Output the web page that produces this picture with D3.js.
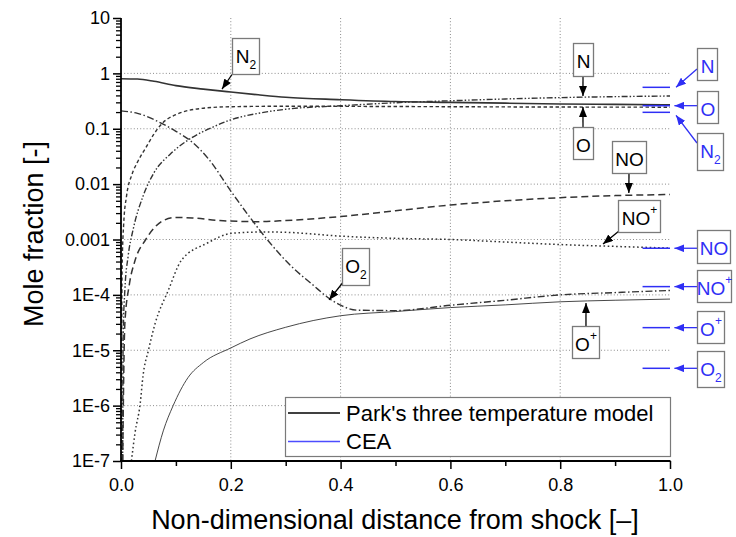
<!DOCTYPE html>
<html>
<head>
<meta charset="utf-8">
<script src="https://cdn.jsdelivr.net/npm/d3@7"></script>
<style>
  html, body { margin: 0; padding: 0; background: #fff; }
  svg { display: block; font-family: "Liberation Sans", Arial, sans-serif; }
</style>
</head>
<body>
<svg id="chart" width="736" height="537"></svg>
<script>
// Mole fractions behind a shock: Park's three temperature model vs. CEA equilibrium
const speciesKeys = ["N2", "O", "N", "O2", "NO", "NO+", "O+"];

const distN2 = [0, 0.03, 0.06, 0.1, 0.15, 0.2, 0.25, 0.3, 0.4, 0.5, 0.6, 0.7, 0.8, 0.9, 1.0];
const fracN2 = [0.8, 0.79, 0.72, 0.6, 0.52, 0.46, 0.41, 0.37, 0.335, 0.31, 0.3, 0.29, 0.28, 0.275, 0.27];

const distO = [0.0005, 0.002, 0.005, 0.01, 0.02, 0.03, 0.045, 0.06, 0.075, 0.1, 0.15, 0.2, 0.3, 0.5, 0.7, 1.0];
const fracO = [1e-7, 3e-4, 2e-3, 6e-3, 0.015, 0.025, 0.045, 0.08, 0.125, 0.18, 0.235, 0.25, 0.255, 0.252, 0.248, 0.245];

const distN = [0.003, 0.004, 0.007, 0.013, 0.022, 0.04, 0.06, 0.09, 0.13, 0.17, 0.2, 0.25, 0.3, 0.4, 0.5, 0.6, 0.7, 0.8, 0.9, 1.0];
const fracN = [1e-7, 2e-5, 1.2e-4, 5e-4, 1.5e-3, 6e-3, 0.016, 0.035, 0.07, 0.11, 0.145, 0.19, 0.225, 0.26, 0.295, 0.32, 0.345, 0.365, 0.38, 0.39];

const distO2 = [0, 0.03, 0.074, 0.1, 0.13, 0.16, 0.2, 0.235, 0.27, 0.31, 0.35, 0.38, 0.4, 0.43, 0.5, 0.6, 0.7, 0.8, 0.9, 1.0];
const fracO2 = [0.21, 0.19, 0.125, 0.09, 0.057, 0.028, 0.0075, 0.0025, 9e-4, 3.3e-4, 1.5e-4, 8.5e-5, 6.5e-5, 5.3e-5, 5.2e-5, 6.5e-5, 8e-5, 1.0e-4, 1.1e-4, 1.2e-4];

const distNO = [0.003, 0.007, 0.015, 0.025, 0.045, 0.06, 0.077, 0.1, 0.13, 0.18, 0.25, 0.3, 0.4, 0.5, 0.6, 0.7, 0.8, 0.9, 1.0];
const fracNO = [1e-7, 3e-5, 1.5e-4, 4e-4, 1e-3, 1.6e-3, 2.2e-3, 2.5e-3, 2.45e-3, 2.2e-3, 2.1e-3, 2.2e-3, 2.6e-3, 3.3e-3, 4.2e-3, 5.0e-3, 5.7e-3, 6.2e-3, 6.5e-3];

const distNOp = [0.019, 0.0255, 0.035, 0.04, 0.05, 0.062, 0.086, 0.11, 0.156, 0.204, 0.266, 0.3, 0.4, 0.5, 0.6, 0.7, 0.8, 0.9, 1.0];
const fracNOp = [1e-7, 3.2e-7, 1.1e-6, 3.4e-6, 1e-5, 3e-5, 1.2e-4, 4.2e-4, 8.5e-4, 1.3e-3, 1.37e-3, 1.35e-3, 1.15e-3, 1.05e-3, 1.0e-3, 9e-4, 8.1e-4, 7.5e-4, 7.0e-4];

const distOp = [0.062, 0.077, 0.095, 0.122, 0.15, 0.2, 0.235, 0.3, 0.4, 0.5, 0.6, 0.7, 0.8, 0.9, 1.0];
const fracOp = [1e-7, 3.5e-7, 1e-6, 3.2e-6, 6e-6, 1.1e-5, 1.6e-5, 2.6e-5, 4.2e-5, 5e-5, 5.9e-5, 6.6e-5, 7.5e-5, 8e-5, 8.4e-5];

// CEA equilibrium values, drawn as short segments at the end of the domain
const ceaSpecies = ["N", "O", "N2", "NO", "NO+", "O+", "O2"];
const ceaFrac = [0.56, 0.261, 0.198, 6.95e-4, 1.41e-4, 2.56e-5, 4.72e-6];
const ceaSpan = [0.95, 1.0];

// axis ticks
const xMajor = [0, 0.2, 0.4, 0.6, 0.8, 1.0];
const xMinor = [0.1, 0.3, 0.5, 0.7, 0.9];
const xTickLabels = ["0.0", "0.2", "0.4", "0.6", "0.8", "1.0"];
const yMajor = [1e-7, 1e-6, 1e-5, 1e-4, 1e-3, 1e-2, 1e-1, 1, 10];
const yTickLabels = ["1E-7", "1E-6", "1E-5", "1E-4", "0.001", "0.01", "0.1", "1", "10"];
const xGrid = [0.2, 0.4, 0.6, 0.8];
const yGrid = [1e-6, 1e-5, 1e-4, 1e-3, 1e-2, 1e-1, 1];

const legendLabels = ["Park's three temperature model", "CEA"];

// ---------------------------------------------------------------------------
const seriesData = {
  "N2": d3.zip(distN2, fracN2),
  "O": d3.zip(distO, fracO),
  "N": d3.zip(distN, fracN),
  "O2": d3.zip(distO2, fracO2),
  "NO": d3.zip(distNO, fracNO),
  "NO+": d3.zip(distNOp, fracNOp),
  "O+": d3.zip(distOp, fracOp)
};

const lineStyle = {
  "N2":  { dash: null, width: 1.6 },
  "O":   { dash: "3.5,2.5", width: 1.4 },
  "N":   { dash: "6,2,1.5,2,1.5,2", width: 1.4 },
  "O2":  { dash: "7,2.5,1.5,2.5", width: 1.4 },
  "NO":  { dash: "7,4", width: 1.5 },
  "NO+": { dash: "1.6,2.6", width: 1.5 },
  "O+":  { dash: null, width: 0.9 }
};

const ink = "#333";
const blue = "#2f2ff5";
const boxStroke = "#7a7a7a";

const svg = d3.select("#chart");
const plot = { left: 121, right: 670, top: 18, bottom: 461 };

const x = d3.scaleLinear().domain([0, 1]).range([plot.left, plot.right]);
const y = d3.scaleLog().domain([1e-7, 10]).range([plot.bottom, plot.top]);

svg.append("defs").append("clipPath").attr("id", "plotClip")
  .append("rect")
  .attr("x", plot.left).attr("y", plot.top - 2)
  .attr("width", plot.right - plot.left + 2).attr("height", plot.bottom - plot.top + 2);

const defs = svg.select("defs");
function addMarker(id, color) {
  defs.append("marker")
    .attr("id", id)
    .attr("viewBox", "0 0 10 8")
    .attr("refX", 10).attr("refY", 4)
    .attr("markerWidth", 10).attr("markerHeight", 8)
    .attr("markerUnits", "userSpaceOnUse")
    .attr("orient", "auto")
    .append("path").attr("d", "M0,0L10,4L0,8Z").attr("fill", color);
}
addMarker("headBlack", "#000");
addMarker("headBlue", blue);

// grid
const grid = svg.append("g").attr("stroke", "#8c8c8c").attr("stroke-width", 1)
  .attr("stroke-dasharray", "1,2.2").attr("fill", "none");
grid.selectAll("line.v").data(xGrid).join("line")
  .attr("x1", d => x(d)).attr("x2", d => x(d))
  .attr("y1", y(10)).attr("y2", plot.bottom);
grid.selectAll("line.h").data(yGrid).join("line")
  .attr("x1", plot.left).attr("x2", plot.right)
  .attr("y1", d => y(d)).attr("y2", d => y(d));

// model curves
const line = d3.line().x(d => x(d[0])).y(d => y(d[1])).curve(d3.curveMonotoneX);
svg.append("g").attr("clip-path", "url(#plotClip)")
  .selectAll("path").data(speciesKeys).join("path")
  .attr("d", k => line(seriesData[k]))
  .attr("fill", "none")
  .attr("stroke", ink)
  .attr("stroke-width", k => lineStyle[k].width)
  .attr("stroke-dasharray", k => lineStyle[k].dash);

// CEA segments
svg.append("g").selectAll("line").data(ceaFrac).join("line")
  .attr("x1", x(ceaSpan[0])).attr("x2", x(ceaSpan[1]))
  .attr("y1", d => y(d)).attr("y2", d => y(d))
  .attr("stroke", blue).attr("stroke-width", 1.5);

// axes
const fontTick = 18;
const yAxis = svg.append("g").attr("transform", `translate(${plot.left},0)`);
const yMinor = [];
for (let e = -7; e < 1; e++) for (let m = 2; m <= 9; m++) yMinor.push(m * Math.pow(10, e));
yAxis.append("g").call(d3.axisLeft(y).tickValues(yMinor).tickSize(5).tickFormat(""))
  .call(g => g.select(".domain").remove())
  .selectAll("line").attr("stroke", "#000").attr("stroke-width", 1.3);
yAxis.append("g").call(d3.axisLeft(y).tickValues(yMajor).tickSize(8).tickPadding(3)
    .tickFormat((d, i) => yTickLabels[i]))
  .call(g => g.select(".domain").attr("stroke-width", 1.8).attr("d", `M0,${plot.top}V${plot.bottom + 0.5}`))
  .call(g => g.selectAll("line").attr("stroke-width", 1.5))
  .call(g => g.selectAll("text").attr("font-size", fontTick).attr("fill", "#000")
    .attr("font-family", "Liberation Sans, Arial, sans-serif"));

const xAxis = svg.append("g").attr("transform", `translate(0,${plot.bottom})`);
xAxis.append("g").call(d3.axisBottom(x).tickValues(xMinor).tickSize(5).tickFormat(""))
  .call(g => g.select(".domain").remove())
  .selectAll("line").attr("stroke-width", 1.5);
xAxis.append("g").call(d3.axisBottom(x).tickValues(xMajor).tickSize(8).tickPadding(9)
    .tickFormat((d, i) => xTickLabels[i]))
  .call(g => g.select(".domain").attr("stroke-width", 1.8).attr("d", `M${plot.left - 0.9},0H${plot.right + 0.5}`))
  .call(g => g.selectAll("line").attr("stroke-width", 1.5))
  .call(g => g.selectAll("text").attr("font-size", fontTick).attr("fill", "#000")
    .attr("font-family", "Liberation Sans, Arial, sans-serif"));

// axis titles
svg.append("text")
  .attr("x", 395).attr("y", 529)
  .attr("text-anchor", "middle").attr("font-size", 27).attr("fill", "#000")
  .text("Non-dimensional distance from shock [\u2013]");
svg.append("text")
  .attr("transform", "translate(43,234) rotate(-90)")
  .attr("text-anchor", "middle").attr("font-size", 27).attr("fill", "#000")
  .text("Mole fraction [-]");

// legend
const legend = svg.append("g");
legend.append("rect")
  .attr("x", 285.5).attr("y", 397.5).attr("width", 385).attr("height", 59)
  .attr("fill", "#fff").attr("stroke", boxStroke).attr("stroke-width", 1.2);
const legendColors = ["#000", "#4d4dff"];
const legendRows = [413, 441.5];
legendLabels.forEach((lab, i) => {
  legend.append("line")
    .attr("x1", 288).attr("x2", 340).attr("y1", legendRows[i]).attr("y2", legendRows[i])
    .attr("stroke", legendColors[i]).attr("stroke-width", 1.3);
  legend.append("text")
    .attr("x", 346).attr("y", legendRows[i] + 7.5)
    .attr("font-size", 22).attr("fill", "#000").text(lab);
});

// callouts: label box, arrow from box to a point on a curve or CEA mark
function species(label) {
  const m = label.match(/^([A-Z]+)(\d*)(\+?)$/);
  return { base: m[1], sub: m[2], sup: m[3] };
}
const modelCallouts = [
  { label: "N2",  box: [232, 38, 27, 36], from: [232, 74.5], tip: [0.184, 0.52] },
  { label: "N",   box: [573, 43, 20, 33], from: [583, 76],   tip: [0.8415, 0.39] },
  { label: "O",   box: [573, 127, 20, 32], from: [583, 127], tip: [0.8415, 0.247] },
  { label: "NO",  box: [612, 141, 34, 32], from: [629, 173], tip: [0.925, 0.0069] },
  { label: "NO+", box: [618, 200, 42, 32], from: [619, 231], tip: [0.878, 8.3e-4] },
  { label: "O+",  box: [572, 326, 27, 32], from: [586, 326], tip: [0.847, 7.1e-5] },
  { label: "O2",  box: [342, 248, 27, 37], from: [342.5, 283], tip: [0.379, 8.1e-5] }
];
const ceaBoxes = {
  "N":   { box: [697, 48, 20, 32],  from: [697, 69],  tipShift: [1.011, 0] },
  "O":   { box: [697, 91, 21, 32],  from: [697, null], tipShift: [1.008, 0] },
  "N2":  { box: [697, 133, 26, 37], from: [697, 143], tipShift: [1.011, -3] },
  "NO":  { box: [697, 230, 33, 33], from: [697, null], tipShift: [1.008, 0] },
  "NO+": { box: [697, 270, 34, 32], from: [697, null], tipShift: [1.008, 0] },
  "O+":  { box: [697, 311, 27, 32], from: [697, null], tipShift: [1.008, 0] },
  "O2":  { box: [697, 351, 27, 36], from: [697, null], tipShift: [1.008, 0] }
};

function drawCallout(g, label, box, from, tipPx, color, marker) {
  g.append("line")
    .attr("x1", from[0]).attr("y1", from[1] == null ? tipPx[1] : from[1])
    .attr("x2", tipPx[0]).attr("y2", tipPx[1])
    .attr("stroke", color).attr("stroke-width", 1.3)
    .attr("marker-end", `url(#${marker})`);
  g.append("rect")
    .attr("x", box[0] + 0.5).attr("y", box[1] + 0.5)
    .attr("width", box[2]).attr("height", box[3])
    .attr("fill", "#fff").attr("stroke", boxStroke).attr("stroke-width", 1.3);
  const sp = species(label);
  const t = g.append("text")
    .attr("x", box[0] + box[2] / 2 + 0.5).attr("y", box[1] + 24.5)
    .attr("text-anchor", "middle").attr("font-size", 19).attr("fill", color);
  t.append("tspan").text(sp.base);
  if (sp.sub) t.append("tspan").attr("font-size", 12).attr("dy", 6).text(sp.sub);
  if (sp.sup) t.append("tspan").attr("font-size", 12).attr("dy", -11).text(sp.sup);
}

const calloutLayer = svg.append("g");
modelCallouts.forEach(c => {
  drawCallout(calloutLayer, c.label, c.box, c.from, [x(c.tip[0]), y(c.tip[1])], "#000", "headBlack");
});
ceaSpecies.forEach((k, i) => {
  const c = ceaBoxes[k];
  const tipPx = [x(c.tipShift[0]), y(ceaFrac[i]) - c.tipShift[1]];
  drawCallout(calloutLayer, k, c.box, c.from, tipPx, blue, "headBlue");
});
</script>
</body>
</html>
